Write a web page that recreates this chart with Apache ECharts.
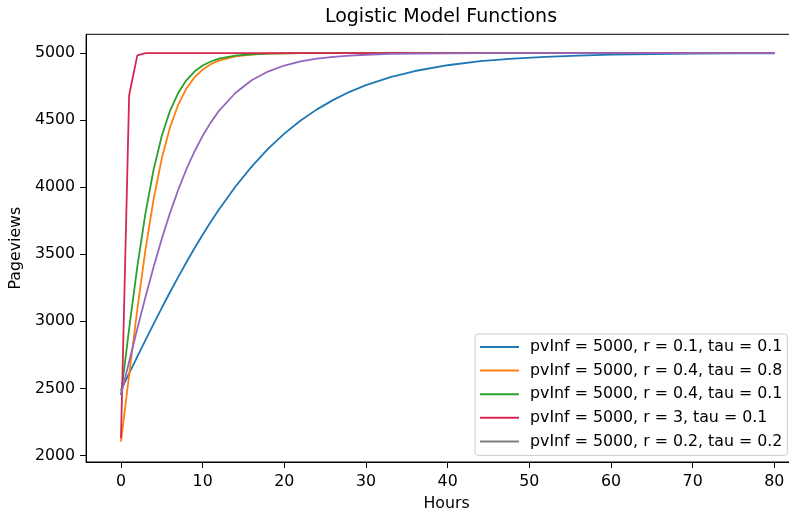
<!DOCTYPE html>
<html>
<head>
<meta charset="utf-8">
<script src="https://cdn.jsdelivr.net/npm/echarts@6/dist/echarts.min.js"></script>
<style>
html,body{margin:0;padding:0;background:#fff;overflow:hidden;width:789px;height:517px;}
#chart{width:810px;height:517px;}
</style>
</head>
<body>
<div id="chart"></div>
<script>
// Hours (x values)
var hours = [0,1,2,3,4,5,6,7,8,9,10,11,12,14,16,18,20,22,24,26,28,30,33,36,40,44,48,52,56,60,65,70,75,80];
// Series names
var seriesNames = [
  'pvInf = 5000, r = 0.1, tau = 0.1',
  'pvInf = 5000, r = 0.4, tau = 0.8',
  'pvInf = 5000, r = 0.4, tau = 0.1',
  'pvInf = 5000, r = 3, tau = 0.1',
  'pvInf = 5000, r = 0.2, tau = 0.2'
];
// Pageviews per series
var blueVals = [2488,2612,2737,2860,2981,3101,3217,3330,3439,3545,3645,3742,3834,4003,4153,4285,4399,4497,4580,4651,4711,4761,4820,4866,4909,4939,4959,4972,4981,4988,4992,4995,4997,4998];
var orangeVals = [2103,2600,3089,3534,3912,4215,4445,4614,4734,4819,4877,4917,4944,4975,4989,4995,4998,4999,5000,5000,5000,5000,5000,5000,5000,5000,5000,5000,5000,5000,5000,5000,5000,5000];
var greenVals = [2450,2945,3407,3807,4132,4383,4569,4702,4797,4862,4907,4937,4958,4981,4991,4996,4998,4999,5000,5000,5000,5000,5000,5000,5000,5000,5000,5000,5000,5000,5000,5000,5000,5000];
var redVals = [2128,4685,4983,4999,5000,5000,5000,5000,5000,5000,5000,5000,5000,5000,5000,5000,5000,5000,5000,5000,5000,5000,5000,5000,5000,5000,5000,5000,5000,5000,5000,5000,5000,5000];
var purpleVals = [2450,2700,2945,3182,3407,3616,3807,3979,4132,4266,4383,4483,4569,4702,4797,4862,4907,4937,4958,4972,4981,4987,4993,4996,4998,4999,5000,5000,5000,5000,5000,5000,5000,5000];
// Tick labels
var xTicks = [0,10,20,30,40,50,60,70,80];
var yTicks = [2000,2500,3000,3500,4000,4500,5000];

var allVals = [blueVals, orangeVals, greenVals, redVals, purpleVals];
var lineColors = ['#1f77b4', '#ff7f0e', '#2ca02c', '#d62750', '#9467bd'];
var legendColors = ['#1f77b4', '#ff7f0e', '#2ca02c', '#d62750', '#7f7f7f'];

var FONT = 'DejaVu Sans';
var chart = echarts.init(document.getElementById('chart'), null, {renderer: 'canvas'});

var series = allVals.map(function (vals, k) {
  return {
    name: seriesNames[k],
    type: 'line',
    symbol: 'none',
    showSymbol: false,
    animation: false,
    z: 2 + k,
    lineStyle: {color: lineColors[k], width: 1.8},
    itemStyle: {color: lineColors[k]},
    data: hours.map(function (h, i) { return [h, vals[i]]; })
  };
});

chart.setOption({
  animation: false,
  backgroundColor: '#ffffff',
  textStyle: {fontFamily: FONT},
  title: {
    text: 'Logistic Model Functions',
    left: 441,
    top: 8,
    textAlign: 'center',
    padding: 0,
    textStyle: {fontFamily: FONT, fontSize: 19, fontWeight: 'normal', color: '#000'}
  },
  grid: {
    left: 84.3,
    top: 34.3,
    right: 3,
    bottom: 48.7,
    show: true,
    borderColor: '#000',
    borderWidth: 1,
    containLabel: false
  },
  legend: {
    orient: 'vertical',
    left: 475,
    top: 334,
    padding: [5, 5, 6, 5],
    icon: 'rect',
    itemWidth: 39,
    itemHeight: 2,
    itemGap: 7.6,
    backgroundColor: 'rgba(255,255,255,0.8)',
    borderColor: '#cccccc',
    borderWidth: 1,
    borderRadius: 3,
    textStyle: {fontFamily: FONT, fontSize: 15.8, color: '#000', lineHeight: 16, padding: [0, 0, 0, 6]},
    data: seriesNames.map(function (n, k) {
      return {name: n, itemStyle: {color: legendColors[k]}};
    })
  },
  xAxis: {
    type: 'value',
    min: -4.27,
    max: 84.0,
    name: 'Hours',
    nameLocation: 'middle',
    nameGap: 34,
    nameTextStyle: {fontFamily: FONT, fontSize: 15.8, color: '#000'},
    axisLine: {show: true, onZero: false, lineStyle: {color: '#000', width: 1}},
    axisTick: {show: true, length: 6, customValues: xTicks, lineStyle: {color: '#000'}},
    axisLabel: {show: true, margin: 12, customValues: xTicks, fontFamily: FONT, fontSize: 15.8, color: '#000'},
    splitLine: {show: false}
  },
  yAxis: {
    type: 'value',
    min: 1951.5,
    max: 5139.6,
    name: 'Pageviews',
    nameLocation: 'middle',
    nameGap: 58,
    nameTextStyle: {fontFamily: FONT, fontSize: 15.8, color: '#000'},
    axisLine: {show: true, onZero: false, lineStyle: {color: '#000', width: 1}},
    axisTick: {show: true, length: 6, customValues: yTicks, lineStyle: {color: '#000'}},
    axisLabel: {show: true, margin: 11, customValues: yTicks, fontFamily: FONT, fontSize: 15.8, color: '#000',
      formatter: function (v) { return String(v); }},
    splitLine: {show: false}
  },
  series: series
});
</script>
</body>
</html>
